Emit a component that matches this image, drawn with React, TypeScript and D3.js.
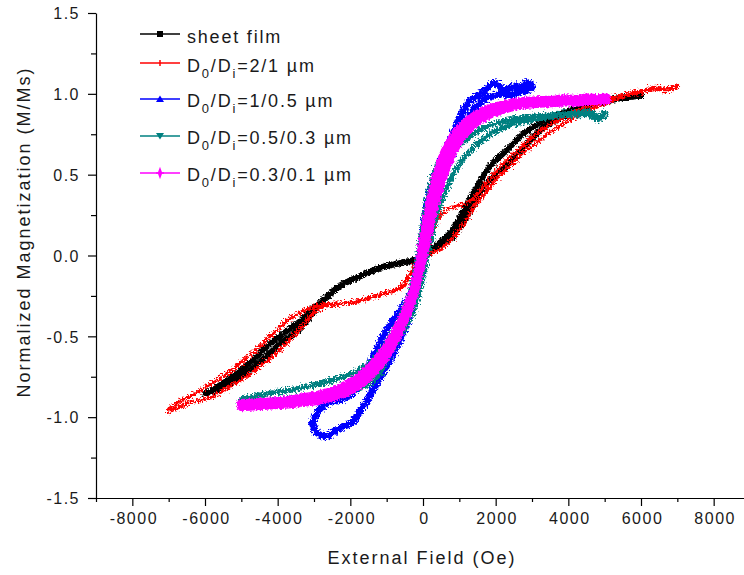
import React, { useEffect, useRef } from 'react';
import * as d3 from 'd3';

// axis ticks
const xTicks = [-8000, -6000, -4000, -2000, 0, 2000, 4000, 6000, 8000];
const xMinorTicks = [-9000, -7000, -5000, -3000, -1000, 1000, 3000, 5000, 7000];
const yTicks = [-1.5, -1.0, -0.5, 0.0, 0.5, 1.0, 1.5];
const yMinorTicks = [-1.25, -0.75, -0.25, 0.25, 0.75, 1.25];

// [field (Oe), M/Ms] -- descending branch then ascending branch
const sheetFilmDown = [
  [6000, 0.99], [5600, 0.98], [5200, 0.965], [4800, 0.945], [4400, 0.92], [4000, 0.895], [3600, 0.86],
  [3300, 0.83], [3000, 0.79], [2600, 0.72], [2300, 0.65], [2000, 0.59], [1800, 0.54], [1500, 0.43],
  [1200, 0.31], [1000, 0.23], [750, 0.14], [500, 0.085], [300, 0.05], [100, 0.02], [-50, 0.0],
  [-150, -0.025], [-400, -0.035], [-700, -0.05], [-1000, -0.065], [-1300, -0.085], [-1600, -0.115],
  [-1900, -0.145], [-2200, -0.175], [-2500, -0.23], [-2800, -0.29], [-3100, -0.34], [-3400, -0.41],
  [-3700, -0.46], [-4000, -0.51], [-4300, -0.565], [-4600, -0.63], [-4900, -0.69], [-5200, -0.74],
  [-5500, -0.79], [-5800, -0.83], [-6000, -0.85],
];
const sheetFilmUp = [
  [-6000, -0.855], [-5700, -0.835], [-5400, -0.8], [-5100, -0.76], [-4800, -0.715], [-4500, -0.66],
  [-4200, -0.6], [-3900, -0.54], [-3600, -0.49], [-3300, -0.43], [-3050, -0.36], [-2850, -0.3],
  [-2600, -0.245], [-2300, -0.19], [-2000, -0.155], [-1700, -0.125], [-1400, -0.095], [-1100, -0.07],
  [-800, -0.055], [-500, -0.04], [-250, -0.03], [-100, -0.01], [100, 0.01], [300, 0.04], [550, 0.075],
  [800, 0.11], [1050, 0.19], [1300, 0.28], [1500, 0.36], [1700, 0.43], [2000, 0.5], [2300, 0.56],
  [2600, 0.63], [2900, 0.7], [3200, 0.77], [3500, 0.82], [3800, 0.855], [4200, 0.895], [4600, 0.925],
  [5000, 0.95], [5500, 0.975], [6000, 0.99],
];

const d21Down = [
  [7000, 1.05], [6700, 1.03], [6400, 1.04], [6100, 1.02], [5800, 1.01], [5500, 0.99], [5200, 0.975],
  [4900, 0.955], [4600, 0.93], [4300, 0.9], [4000, 0.87], [3700, 0.835], [3400, 0.795], [3100, 0.75],
  [2800, 0.69], [2500, 0.63], [2200, 0.565], [1900, 0.49], [1600, 0.41], [1350, 0.345], [1100, 0.315],
  [850, 0.3], [650, 0.285], [450, 0.24], [300, 0.18], [150, 0.08], [0, 0.0], [-200, -0.05],
  [-350, -0.11], [-550, -0.18], [-800, -0.215], [-1100, -0.235], [-1400, -0.255], [-1700, -0.275],
  [-2000, -0.29], [-2400, -0.295], [-2800, -0.305], [-3100, -0.325], [-3400, -0.355], [-3700, -0.395],
  [-4000, -0.455], [-4300, -0.52], [-4600, -0.585], [-4900, -0.64], [-5200, -0.7], [-5500, -0.745],
  [-5800, -0.79], [-6100, -0.83], [-6400, -0.87], [-6700, -0.905], [-7000, -0.95],
];
const d21Up = [
  [-7000, -0.965], [-6700, -0.94], [-6400, -0.91], [-6100, -0.895], [-5800, -0.875], [-5500, -0.835],
  [-5200, -0.795], [-4900, -0.755], [-4600, -0.705], [-4300, -0.655], [-4000, -0.595], [-3700, -0.53],
  [-3450, -0.47], [-3200, -0.405], [-3000, -0.35], [-2700, -0.315], [-2300, -0.3], [-1900, -0.29],
  [-1500, -0.265], [-1100, -0.24], [-800, -0.22], [-550, -0.19], [-350, -0.12], [-150, -0.05],
  [50, -0.01], [250, 0.015], [450, 0.035], [700, 0.08], [950, 0.145], [1200, 0.22], [1400, 0.3],
  [1650, 0.37], [1900, 0.44], [2200, 0.515], [2500, 0.58], [2800, 0.64], [3100, 0.695], [3400, 0.745],
  [3700, 0.79], [4000, 0.835], [4300, 0.87], [4600, 0.9], [4900, 0.935], [5200, 0.96], [5500, 0.985],
  [5800, 1.0], [6100, 1.015], [6400, 1.03], [6700, 1.02], [7000, 1.04],
];

const d105Down = [
  [3000, 1.05], [2850, 1.07], [2700, 1.03], [2550, 1.05], [2400, 1.04], [2250, 1.02], [2100, 1.05],
  [1950, 1.07], [1800, 1.04], [1650, 1.01], [1500, 0.99], [1350, 0.97], [1200, 0.93], [1050, 0.87],
  [900, 0.79], [750, 0.71], [600, 0.63], [450, 0.55], [300, 0.46], [180, 0.37], [80, 0.25], [0, 0.12],
  [-80, 0.0], [-180, -0.13], [-300, -0.22], [-450, -0.29], [-650, -0.35], [-850, -0.41], [-1050, -0.48],
  [-1250, -0.57], [-1450, -0.67], [-1650, -0.76], [-1850, -0.83], [-2100, -0.875], [-2350, -0.895],
  [-2600, -0.91], [-2800, -0.94], [-2950, -0.99], [-3050, -1.04],
];
const d105Up = [
  [-3050, -1.04], [-2950, -1.09], [-2800, -1.11], [-2650, -1.12], [-2500, -1.1], [-2300, -1.07],
  [-2100, -1.05], [-1900, -1.02], [-1750, -0.97], [-1600, -0.92], [-1450, -0.86], [-1300, -0.8],
  [-1150, -0.74], [-1000, -0.68], [-850, -0.62], [-700, -0.555], [-550, -0.48], [-400, -0.39],
  [-250, -0.27], [-120, -0.15], [0, -0.02], [120, 0.12], [250, 0.26], [400, 0.39], [550, 0.5],
  [700, 0.59], [850, 0.67], [1000, 0.74], [1200, 0.83], [1400, 0.9], [1600, 0.95], [1800, 0.98],
  [2000, 0.99], [2200, 1.0], [2400, 0.99], [2600, 1.01], [2800, 1.02], [3000, 1.04],
];

const d0503Down = [
  [5000, 0.88], [4800, 0.86], [4600, 0.89], [4400, 0.885], [4200, 0.88], [3900, 0.875], [3600, 0.87],
  [3300, 0.865], [3000, 0.86], [2700, 0.85], [2400, 0.84], [2100, 0.825], [1800, 0.8], [1500, 0.77],
  [1200, 0.72], [950, 0.68], [750, 0.64], [550, 0.595], [400, 0.55], [250, 0.47], [120, 0.33],
  [0, 0.17], [-100, 0.03], [-200, -0.1], [-330, -0.22], [-500, -0.33], [-750, -0.45], [-1000, -0.55],
  [-1300, -0.63], [-1600, -0.69], [-2000, -0.735], [-2400, -0.765], [-2800, -0.79], [-3200, -0.81],
  [-3600, -0.83], [-4000, -0.845], [-4400, -0.86], [-4700, -0.875], [-5000, -0.89],
];
const d0503Up = [
  [-5000, -0.91], [-4700, -0.905], [-4400, -0.9], [-4000, -0.895], [-3600, -0.89], [-3200, -0.885],
  [-2800, -0.875], [-2400, -0.86], [-2000, -0.84], [-1650, -0.81], [-1400, -0.78], [-1250, -0.75],
  [-1080, -0.68], [-900, -0.6], [-720, -0.53], [-550, -0.46], [-380, -0.39], [-220, -0.31], [-80, -0.2],
  [40, -0.08], [140, 0.04], [260, 0.15], [400, 0.27], [600, 0.39], [850, 0.51], [1150, 0.61],
  [1500, 0.69], [1850, 0.75], [2200, 0.79], [2600, 0.82], [3000, 0.84], [3400, 0.855], [3800, 0.865],
  [4200, 0.87], [4600, 0.87], [4800, 0.84], [5000, 0.865],
];

const d0301Down = [
  [5050, 0.975], [4800, 0.97], [4500, 0.975], [4200, 0.965], [3900, 0.97], [3600, 0.96], [3300, 0.96],
  [3000, 0.955], [2700, 0.95], [2400, 0.94], [2100, 0.925], [1800, 0.905], [1500, 0.875], [1250, 0.835],
  [1000, 0.785], [800, 0.725], [600, 0.64], [450, 0.55], [320, 0.45], [200, 0.33], [80, 0.19],
  [-30, 0.04], [-120, -0.08], [-230, -0.19], [-380, -0.29], [-600, -0.4], [-850, -0.51], [-1100, -0.6],
  [-1400, -0.68], [-1750, -0.75], [-2100, -0.8], [-2500, -0.84], [-2900, -0.865], [-3300, -0.88],
  [-3700, -0.895], [-4100, -0.905], [-4500, -0.91], [-5000, -0.915],
];
const d0301Up = [
  [-5000, -0.935], [-4600, -0.93], [-4200, -0.925], [-3800, -0.92], [-3400, -0.91], [-3000, -0.9],
  [-2600, -0.88], [-2200, -0.855], [-1850, -0.815], [-1550, -0.765], [-1300, -0.705], [-1050, -0.635],
  [-850, -0.56], [-650, -0.47], [-450, -0.37], [-280, -0.26], [-130, -0.13], [0, -0.01], [120, 0.12],
  [250, 0.25], [400, 0.38], [580, 0.51], [780, 0.62], [1000, 0.71], [1250, 0.78], [1550, 0.84],
  [1900, 0.88], [2300, 0.91], [2700, 0.93], [3100, 0.94], [3500, 0.945], [3900, 0.95], [4300, 0.95],
  [4700, 0.955], [5050, 0.96],
];

const legendSizes = ['2/1', '1/0.5', '0.5/0.3', '0.3/0.1'];

const series = [
  { label: 'sheet film', color: '#000000', down: sheetFilmDown, up: sheetFilmUp, width: 6, rough: 5, marker: 'square' },
  { label: legendSizes[0], color: '#ff0000', down: d21Down, up: d21Up, width: 3.4, rough: 9, marker: 'tick' },
  { label: legendSizes[1], color: '#0000ff', down: d105Down, up: d105Up, width: 7, rough: 8, marker: 'up' },
  { label: legendSizes[2], color: '#008080', down: d0503Down, up: d0503Up, width: 5.5, rough: 9, marker: 'down' },
  { label: legendSizes[3], color: '#ff00ff', down: d0301Down, up: d0301Up, width: 9, rough: 5, marker: 'star' },
];

const font = "'Liberation Sans', Arial, sans-serif";

const App = () => {
  const axisRef = useRef<SVGGElement>(null);
  const x = d3.scaleLinear().domain([-9000, 9000]).range([96, 750]);
  const y = d3.scaleLinear().domain([-1.5, 1.5]).range([498, 13]);
  const line = d3
    .line<number[]>()
    .x((d) => x(d[0]))
    .y((d) => y(d[1]))
    .curve(d3.curveCatmullRom.alpha(0.5));

  useEffect(() => {
    const g = d3.select(axisRef.current);
    g.selectAll('*').remove();

    const xAxis = d3.axisBottom(x).tickValues(xTicks).tickSize(8).tickSizeOuter(0).tickPadding(7)
      .tickFormat((d) => String(d));
    const xMinor = d3.axisBottom(x).tickValues(xMinorTicks).tickSize(4).tickFormat(() => '');
    const yAxis = d3.axisLeft(y).tickValues(yTicks).tickSize(8).tickSizeOuter(0).tickPadding(8)
      .tickFormat((d) => (+d).toFixed(1));
    const yMinor = d3.axisLeft(y).tickValues(yMinorTicks).tickSize(5).tickFormat(() => '');

    const gx = g.append('g').attr('transform', 'translate(0,498)').call(xAxis);
    g.append('g').attr('transform', 'translate(0,498)').call(xMinor).select('.domain').remove();
    const gy = g.append('g').attr('transform', 'translate(96,0)').call(yAxis);
    g.append('g').attr('transform', 'translate(96,0)').call(yMinor).select('.domain').remove();

    g.selectAll('text')
      .attr('font-family', font)
      .attr('font-size', 16)
      .attr('letter-spacing', 1.5)
      .attr('fill', '#1a1a1a');
    g.selectAll('path, line').attr('stroke', '#000').attr('stroke-width', 1.2);
    gx.selectAll('.tick text').attr('dx', 1);
    gy.selectAll('.tick text').attr('dy', '0.36em');
  }, []);

  const legendLine = [34, 63, 99, 136, 173];
  const legendBase = [42.5, 72, 107, 144, 181];

  const marker = (type: string, cx: number, cy: number, color: string) => {
    if (type === 'square') return <rect x={cx - 3} y={cy - 3} width={6} height={6} fill={color} />;
    if (type === 'tick') return <line x1={cx} x2={cx} y1={cy - 3} y2={cy + 3} stroke={color} strokeWidth={1.5} />;
    if (type === 'up') return <path d={`M${cx},${cy - 3.5}L${cx + 4},${cy + 3}L${cx - 4},${cy + 3}Z`} fill={color} />;
    if (type === 'down') return <path d={`M${cx - 4},${cy - 3}L${cx + 4},${cy - 3}L${cx},${cy + 3.5}Z`} fill={color} />;
    return <path d={`M${cx},${cy - 4}L${cx + 1.5},${cy}L${cx},${cy + 4}L${cx - 1.5},${cy}Z M${cx - 4},${cy}L${cx + 4},${cy}`} fill={color} stroke={color} strokeWidth={1.5} />;
  };

  return (
    <svg width={744} height={575} style={{ position: 'absolute', left: 0, top: 0, background: '#fff' }}>
      <defs>
        {series.map((s, i) => (
          <filter key={i} id={`rough${i}`} x="-5%" y="-5%" width="110%" height="110%">
            <feTurbulence type="fractalNoise" baseFrequency="0.55" numOctaves={2} seed={i + 2} result="noise" />
            <feDisplacementMap in="SourceGraphic" in2="noise" scale={s.rough} xChannelSelector="R" yChannelSelector="G" />
          </filter>
        ))}
      </defs>
      <rect width={744} height={575} fill="#fff" />
      {series.map((s, i) => (
        <g key={i} filter={`url(#rough${i})`}>
          <path d={line(s.down) || ''} fill="none" stroke={s.color} strokeWidth={s.width} strokeLinejoin="round" strokeLinecap="round" />
          <path d={line(s.up) || ''} fill="none" stroke={s.color} strokeWidth={s.width} strokeLinejoin="round" strokeLinecap="round" />
        </g>
      ))}
      <g ref={axisRef} />
      <g fontFamily={font} fill="#1a1a1a">
        {series.map((s, i) => (
          <g key={i}>
            <line x1={140} x2={180} y1={legendLine[i]} y2={legendLine[i]} stroke={s.color} strokeWidth={1.3} />
            {marker(s.marker, 160, legendLine[i], s.color)}
            {i === 0 ? (
              <text x={187} y={legendBase[i]} fontSize={18} letterSpacing={1.8}>{s.label}</text>
            ) : (
              <text x={187} y={legendBase[i]} fontSize={18} letterSpacing={1.8}>
                D<tspan fontSize={13} dy={6}>0</tspan>
                <tspan dy={-6}>/D</tspan>
                <tspan fontSize={13} dy={6}>i</tspan>
                <tspan dy={-6}>={s.label} µm</tspan>
              </text>
            )}
          </g>
        ))}
        <text x={422} y={564} fontSize={18} letterSpacing={2} textAnchor="middle">External Field (Oe)</text>
        <text transform="translate(30,232) rotate(-90)" fontSize={18} letterSpacing={2} textAnchor="middle">
          Normalized Magnetization (M/Ms)
        </text>
      </g>
    </svg>
  );
};

export default App;
